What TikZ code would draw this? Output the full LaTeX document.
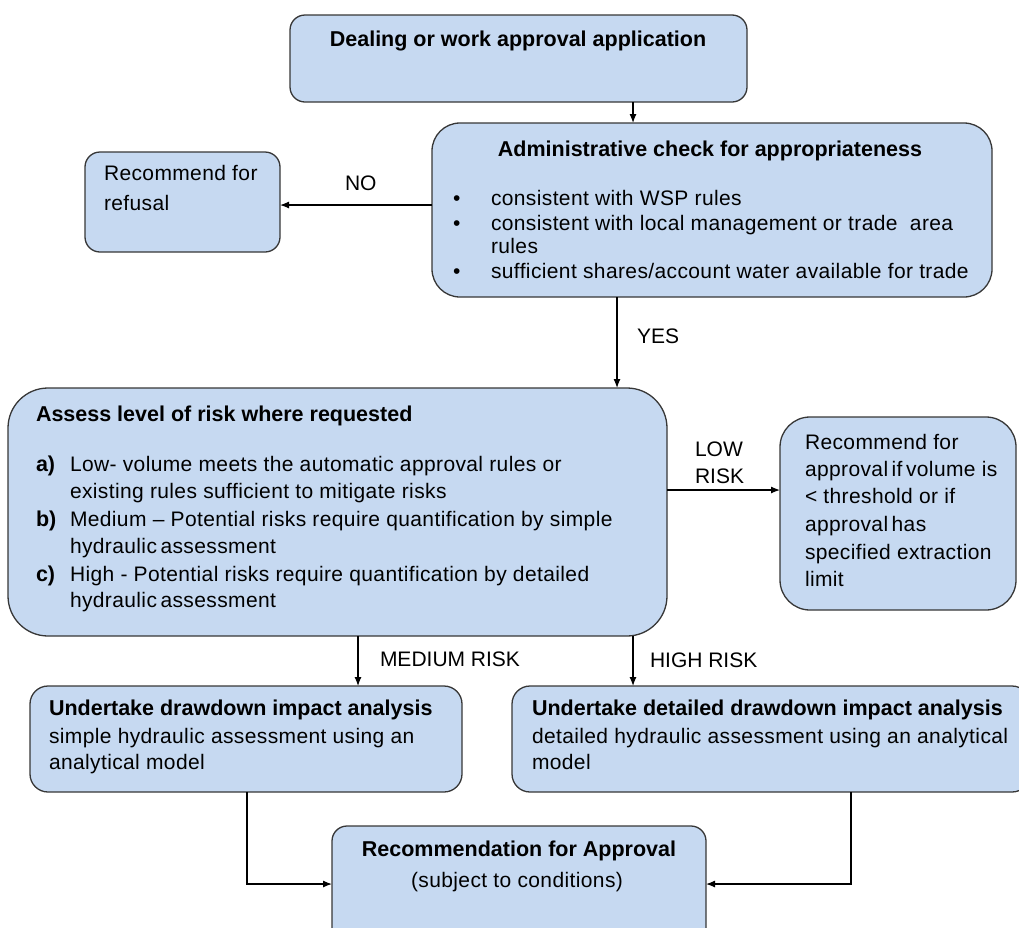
\documentclass[tikz,border=0pt]{standalone}
\usepackage{fontspec}
\setmainfont{Liberation Sans}
\newfontfamily\spacedfont[LetterSpace=1.8]{Liberation Sans}
\usetikzlibrary{arrows.meta}
\definecolor{boxblue}{RGB}{198,217,241}
\definecolor{edgegray}{RGB}{55,55,55}
\begin{document}
\begin{tikzpicture}[x=1pt,y=-1pt,
  box/.style={draw=edgegray, fill=boxblue, line width=1.3pt, inner sep=0pt, outer sep=0pt},
  txt/.style={inner sep=0pt, outer sep=0pt, font=\spacedfont\fontsize{21}{27}\selectfont, anchor=base west},
  ttl/.style={inner sep=0pt, outer sep=0pt, anchor=base west, font=\fontsize{21.5}{27}\selectfont\bfseries},
  lbl/.style={inner sep=0pt, outer sep=0pt, anchor=base west, font=\fontsize{21}{27}\selectfont},
  arr/.style={draw=black, line width=1.2pt, -{Latex[length=9pt,width=7pt]}}]
\useasboundingbox (0,0) rectangle (1019,927);
% boxes
\node[box, rounded corners=15pt, minimum width=457pt, minimum height=87pt] (dealing) at (518.5,58.5) {};
\node[box, rounded corners=28pt, minimum width=560pt, minimum height=174pt] (admin) at (712,210) {};
\node[box, rounded corners=15pt, minimum width=195pt, minimum height=100pt] (refusal) at (182.5,202) {};
\node[box, rounded corners=40pt, minimum width=659pt, minimum height=248pt] (assess) at (337.5,512) {};
\node[box, rounded corners=30pt, minimum width=236pt, minimum height=193pt] (low) at (898,513.5) {};
\node[box, rounded corners=18pt, minimum width=432pt, minimum height=106pt] (medium) at (246,739) {};
\node[box, rounded corners=18pt, minimum width=518pt, minimum height=106pt] (high) at (771,739) {};
\node[box, rounded corners=15pt, minimum width=374pt, minimum height=119pt] (rec) at (519,885.5) {};
% texts
\node[ttl, anchor=base] (t-dealing) at (518,46) {Dealing or work approval application};
\node[ttl, anchor=base] (t-admin) at (710,156) {Administrative check for appropriateness};
\node[lbl] (b1) at (453,205) {\textbullet};
\node[lbl] (b2) at (453,230) {\textbullet};
\node[lbl] (b3) at (453,278) {\textbullet};
\node[txt] (t-ad1) at (491,205) {consistent with WSP rules};
\node[txt] (t-ad2) at (491,230) {consistent with local management or trade\ \ area};
\node[txt] (t-ad3) at (491,253) {rules};
\node[txt] (t-ad4) at (491,278) {sufficient shares/account water available for trade};
\node[txt] (t-ref1) at (104,180) {Recommend for};
\node[txt] (t-ref2) at (104,210) {refusal};
\node[ttl] (t-assess) at (36,421) {Assess level of risk where requested};
\node[ttl] (ia) at (36,471) {a)};
\node[txt] (t-a1) at (70,471) {Low- volume meets the automatic approval rules or};
\node[txt] (t-a2) at (70,498) {existing rules sufficient to mitigate risks};
\node[ttl] (ib) at (36,526) {b)};
\node[txt] (t-b1) at (70,526) {Medium – Potential risks require quantification by simple};
\node[txt] (t-b2) at (70,553) {hydraulic\,assessment};
\node[ttl] (ic) at (36,581) {c)};
\node[txt] (t-c1) at (70,581) {High - Potential risks require quantification by detailed};
\node[txt] (t-c2) at (70,607) {hydraulic\,assessment};
\node[txt] (t-low1) at (805,449) {Recommend for};
\node[txt] (t-low2) at (805,476) {approval\,if\,volume is};
\node[txt] (t-low3) at (805,503) {< threshold or if};
\node[txt] (t-low4) at (805,531) {approval\,has};
\node[txt] (t-low5) at (805,559) {specified extraction};
\node[txt] (t-low6) at (805,586) {limit};
\node[ttl] (t-med) at (49,715) {Undertake drawdown impact analysis};
\node[txt] (t-med1) at (49,743) {simple hydraulic assessment using an};
\node[txt] (t-med2) at (49,769) {analytical model};
\node[ttl] (t-high) at (532,715) {Undertake detailed drawdown impact analysis};
\node[txt] (t-high1) at (532,743) {detailed hydraulic assessment using an analytical};
\node[txt] (t-high2) at (532,769) {model};
\node[ttl, anchor=base] (t-rec) at (519,856) {Recommendation for Approval};
\node[txt, anchor=base] (t-rec2) at (517,887) {(subject to conditions)};
% labels
\node[lbl] (l-no) at (345,190) {NO};
\node[lbl] (l-yes) at (637,343) {YES};
\node[lbl] (l-low1) at (695,456) {LOW};
\node[lbl] (l-low2) at (695,483) {RISK};
\node[lbl] (l-med) at (380,666) {MEDIUM RISK};
\node[lbl] (l-high) at (650,667) {HIGH RISK};
% connector guides
\coordinate (xa) at (633,0);
\coordinate (ya) at (0,205);
\coordinate (xy) at (617,0);
\coordinate (yl) at (0,490);
\coordinate (xm) at (358,0);
\coordinate (xh) at (633,0);
\coordinate (xml) at (247,0);
\coordinate (xhr) at (851,0);
\coordinate (yr) at (0,884);
% connectors
\draw[arr] (xa |- dealing.south) -- (xa |- admin.north);
\draw[arr] (admin.west |- ya) -- (refusal.east |- ya);
\draw[arr] (xy |- admin.south) -- (xy |- assess.north);
\draw[arr] (assess.east |- yl) -- (low.west |- yl);
\draw[arr] (xm |- assess.south) -- (xm |- medium.north);
\draw[arr] (xh |- assess.south) -- (xh |- high.north);
\draw[arr] (xml |- medium.south) -- (xml |- yr) -- (rec.west |- yr);
\draw[arr] (xhr |- high.south) -- (xhr |- yr) -- (rec.east |- yr);
\end{tikzpicture}
\end{document}
